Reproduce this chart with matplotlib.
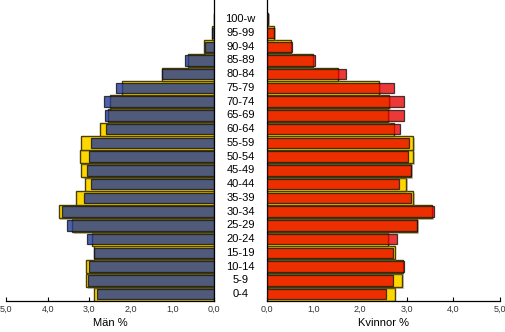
import numpy as np
import matplotlib.pyplot as plt
import matplotlib.patheffects as pe

plt.rcParams['font.family'] = ['Liberation Sans', 'DejaVu Sans']

# Åldersgrupper (nedifrån och upp)
ages = ['0-4', '5-9', '10-14', '15-19', '20-24', '25-29', '30-34', '35-39',
        '40-44', '45-49', '50-54', '55-59', '60-64', '65-69', '70-74',
        '75-79', '80-84', '85-89', '90-94', '95-99', '100-w']

# Män % (kommun) och jämförelse (riket, gul)
man_local = [2.81, 3.03, 3.01, 2.88, 3.05, 3.53, 3.65, 3.13, 2.95, 3.05, 3.01,
             2.96, 2.60, 2.61, 2.64, 2.35, 1.25, 0.69, 0.21, 0.05, 0.01]
man_ref = [2.89, 3.07, 3.08, 2.89, 2.93, 3.41, 3.73, 3.32, 3.10, 3.20, 3.21,
           3.20, 2.73, 2.56, 2.49, 2.21, 1.25, 0.63, 0.23, 0.05, 0.01]

# Kvinnor %
kv_local = [2.56, 2.70, 2.94, 2.70, 2.78, 3.21, 3.59, 3.08, 2.83, 3.10, 3.02,
            3.05, 2.85, 2.93, 2.93, 2.73, 1.70, 1.03, 0.54, 0.15, 0.03]
kv_ref = [2.74, 2.90, 2.91, 2.74, 2.60, 3.22, 3.55, 3.14, 2.98, 3.10, 3.13,
          3.13, 2.72, 2.60, 2.62, 2.41, 1.53, 0.98, 0.51, 0.16, 0.03]

y = np.arange(len(ages))

fig = plt.figure(figsize=(5.06, 3.32), dpi=100)
ax_l = fig.add_axes([6 / 506, 31 / 332, 208 / 506, 301 / 332])
ax_r = fig.add_axes([267 / 506, 31 / 332, 233 / 506, 301 / 332])

shadow = [pe.SimplePatchShadow(offset=(1.2, -1.2), shadow_rgbFace='#888888', alpha=0.45), pe.Normal()]

for ax, ref, local, col in [(ax_l, man_ref, man_local, '#243b9b'),
                            (ax_r, kv_ref, kv_local, '#e80000')]:
    ax.barh(y, ref, height=0.96, color='#ffd700', edgecolor='#4a3f00',
            linewidth=1.0, path_effects=shadow, zorder=2)
    ax.barh(y, local, height=0.76, color=col, alpha=0.8 if ax is ax_l else 0.78,
            edgecolor='#111111', linewidth=0.9, zorder=3)
    ax.set_ylim(-0.5, 21.4)
    ax.set_yticks([])
    ax.set_xticks(np.arange(0, 6, 1))
    ax.set_xticklabels([f'{v},0' for v in range(6)])
    ax.tick_params(axis='x', direction='in', length=3, width=0.8, labelsize=6.5,
                   pad=3, colors='black', labelcolor='#333333')
    ax.spines['top'].set_visible(False)
    ax.spines['bottom'].set_linewidth(0.9)

ax_l.set_xlim(5, 0)
ax_l.spines['left'].set_visible(False)
ax_l.spines['right'].set_linewidth(0.9)
ax_r.set_xlim(0, 5)
ax_r.spines['right'].set_visible(False)
ax_r.spines['left'].set_linewidth(0.9)

ax_l.set_xlabel('Män %', fontsize=8, labelpad=3)
ax_r.set_xlabel('Kvinnor %', fontsize=8, labelpad=3)

# Åldersetiketter mellan diagrammen
for yi, lab in zip(y, ages):
    ax_l.annotate(lab, xy=(1.0, yi), xycoords=('axes fraction', 'data'),
                  xytext=(19, 0), textcoords='offset points', ha='center',
                  va='center', fontsize=8)

fig.savefig('out.png', dpi=100)
